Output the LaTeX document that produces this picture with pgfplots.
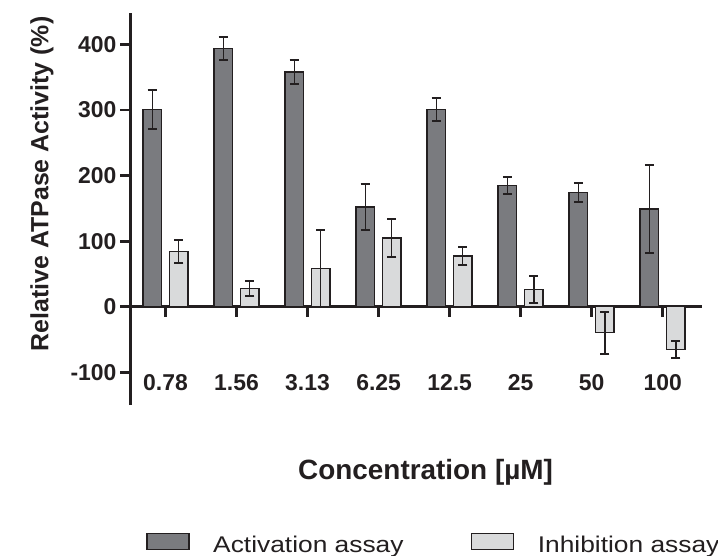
\documentclass[border=0pt]{standalone}
\usepackage{fontspec}
\setmainfont{Liberation Sans}
\newfontfamily\legfont[FakeStretch=1.16]{Liberation Sans}
\usepackage{pgfplots}
\pgfplotsset{compat=1.18}
\definecolor{darkbar}{RGB}{122,123,127}
\definecolor{lightbar}{RGB}{217,218,219}
\definecolor{ink}{RGB}{35,31,32}
\begin{document}
\begin{tikzpicture}
\useasboundingbox (0,0) rectangle (718bp,556bp);
\begin{axis}[
  at={(130bp,151bp)}, anchor=south west,
  scale only axis, width=571.7bp, height=392bp,
  xmin=-0.5, xmax=7.55, ymin=-150, ymax=448,
  axis x line*=middle, axis y line*=left,
  axis line style={line width=3bp, draw=ink},
  x axis line style={line width=3bp, draw=ink},
  y axis line style={line width=3bp, draw=ink},
  every inner x axis line/.append style={line width=3bp},
  every outer y axis line/.append style={line width=3bp},
  tick align=outside, major tick length=10bp,
  every tick/.style={line width=2.8bp, draw=ink},
  xtick={0,...,7}, xticklabels={0.78,1.56,3.13,6.25,12.5,25,50,100},
  ytick={-100,0,100,200,300,400},
  hide obscured x ticks=false, hide obscured y ticks=false,
  /pgf/number format/assume math mode=true,
  ticklabel style={font=\fontsize{23}{26}\selectfont\bfseries, text=ink},
  xticklabel style={anchor=base, yshift=-74bp},
  ylabel={Relative ATPase Activity (\%)},
  ylabel style={at={(axis description cs:-0.154,0.564)}, anchor=center, font=\fontsize{25}{28}\selectfont\bfseries, text=ink},
  xlabel={Concentration [µM]},
  xlabel style={at={(axis description cs:0.517,-0.189)}, anchor=base, font=\fontsize{28}{32}\selectfont\bfseries, text=ink},
  ybar, bar width=18.4bp,
  legend columns=2, legend cell align=left,
  legend image code/.code={\draw[#1, line width=1.5bp] (0bp,-4.6bp) rectangle (42bp,11.4bp);},
  legend style={at={(axis description cs:0.028,-0.3259)}, anchor=north west, draw=none, fill=none,
    inner sep=0pt, outer sep=0pt, font=\legfont\fontsize{22.8}{26}\selectfont, text=ink,
    nodes={inner sep=0pt},
    /tikz/every odd column/.style={column sep=23.7bp},
    /tikz/every even column/.style={column sep=67bp}},
]
\addplot[bar shift=-13.25bp, fill=darkbar, draw=ink, line width=1.5bp,
  error bars/.cd, y dir=both, y explicit,
  error bar style={line width=1.3bp, draw=ink},
  error mark options={rotate=90, mark size=4.6bp, line width=2bp, draw=ink}]
  coordinates {
  (0,301) +- (0,30)
  (1,394) +- (0,18)
  (2,358) +- (0,18)
  (3,152) +- (0,35)
  (4,301) +- (0,18)
  (5,185) +- (0,12.5)
  (6,174) +- (0,14)
  (7,149) +- (0,67)
  };
\addlegendentry{Activation assay}
\addplot[bar shift=13.25bp, fill=lightbar, draw=ink, line width=1.5bp,
  error bars/.cd, y dir=both, y explicit,
  error bar style={line width=1.3bp, draw=ink},
  error mark options={rotate=90, mark size=4.6bp, line width=2bp, draw=ink}]
  coordinates {
  (0,84) +- (0,18)
  (1,28) +- (0,11)
  (2,58) +- (0,59)
  (3,105) +- (0,29)
  (4,77) +- (0,14)
  (5,26) +- (0,21)
  (6,-39.5) +- (0,32)
  (7,-65) +- (0,13)
  };
\addlegendentry{Inhibition assay}
\end{axis}
\end{tikzpicture}
\end{document}
